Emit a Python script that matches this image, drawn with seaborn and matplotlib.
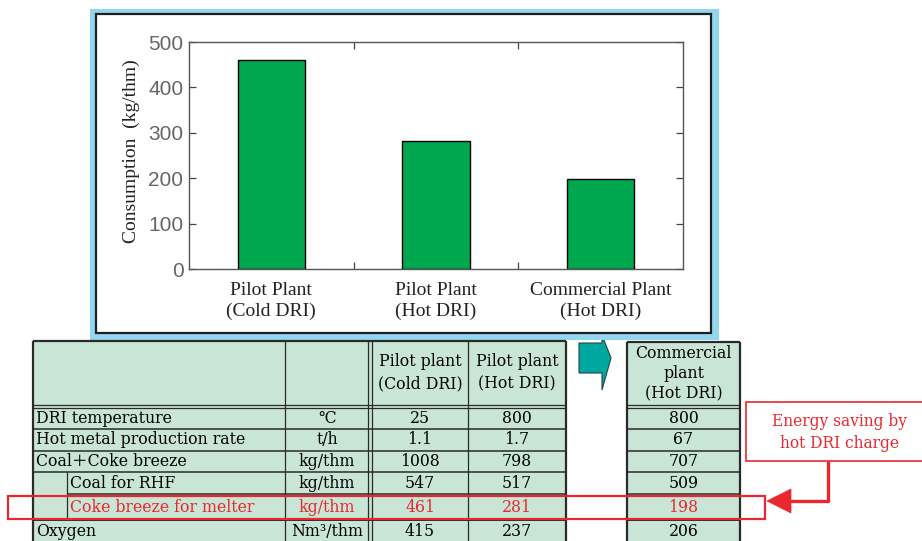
import matplotlib
matplotlib.use("Agg")
import matplotlib.pyplot as plt
from matplotlib.patches import Rectangle, Polygon
import seaborn as sns
import pandas as pd

# ---------------- data ----------------
plants = ["Pilot Plant\n(Cold DRI)", "Pilot Plant\n(Hot DRI)", "Commercial Plant\n(Hot DRI)"]
consumption = [461, 281, 198]
y_ticks = [0, 100, 200, 300, 400, 500]
y_label = "Consumption  (kg/thm)"

row_labels = ["DRI temperature", "Hot metal production rate", "Coal\uff0bCoke breeze",
              "Coal for RHF", "Coke breeze for melter", "Oxygen"]
row_units = ["\u2103", "t/h", "kg/thm", "kg/thm", "kg/thm", "Nm\u00b3/thm"]
pilot_cold = ["25", "1.1", "1008", "547", "461", "415"]
pilot_hot = ["800", "1.7", "798", "517", "281", "237"]
commercial = ["800", "67", "707", "509", "198", "206"]
col_headers = [["Pilot plant", "(Cold DRI)"], ["Pilot plant", "(Hot DRI)"],
               ["Commercial", "plant", "(Hot DRI)"]]
callout = ["Energy saving by", "hot DRI charge"]

# ---------------- style ----------------
GREEN = "#00a74f"
TABLE = "#c9e5d5"
BLUE = "#92d7ef"
RED = "#e8272f"
TEAL = "#00a6a0"
DARK = "#2a2a2a"
SERIF = ["DejaVu Serif", "DejaVu Sans", "Noto Sans CJK JP"]

sns.set_style("white")
plt.rcParams["font.family"] = ["DejaVu Serif", "DejaVu Sans", "Noto Sans CJK JP"]

fig = plt.figure(figsize=(9.22, 5.41), dpi=100)
bg = fig.add_axes([0, 0, 1, 1])
bg.set_xlim(0, 922)
bg.set_ylim(541, 0)
bg.axis("off")


def rect(x0, y0, x1, y1, fc="none", ec="none", lw=0, z=1):
    bg.add_patch(Rectangle((x0, y0), x1 - x0, y1 - y0, facecolor=fc, edgecolor=ec,
                           linewidth=lw, zorder=z))


def line(xs, ys, lw=0.9, c=DARK, z=3):
    bg.plot(xs, ys, color=c, lw=lw, zorder=z, solid_capstyle="butt")


def txt(x, y, s, ha="center", c="black", size=11.3, z=5):
    bg.text(x, y, s, ha=ha, va="center", color=c, fontsize=size, family=SERIF, zorder=z)


# teal arrow (under the blue frame)
bg.add_patch(Polygon([(579, 343), (602, 343), (602, 335), (611, 358), (602, 390),
                      (602, 373), (579, 373)], closed=True, facecolor=TEAL,
                     edgecolor="#1d4a48", lw=0.8, zorder=1))
line([602, 602], [322, 340], lw=0.8, c="#222222", z=1)

# blue frame and black inner frame
rect(90, 9, 719, 340, fc=BLUE, z=2)
rect(96, 14, 711, 333, fc="white", ec="#1e1e1e", lw=1.6, z=2.5)

# ---------------- tables ----------------
row_y = [408, 429, 451, 472, 494, 520, 560]
rect(33, 341, 566, 560, fc=TABLE, z=0.5)
rect(627, 342, 740, 560, fc=TABLE, z=0.5)
for x in (285, 368, 372, 468):
    line([x, x], [341, 560])
line([66.7, 66.7], [472, 520])
for y in (405, 408):
    line([33, 566], [y, y])
    line([627, 740], [y, y])
for y in row_y[1:6]:
    x0 = 66.7 if y == 494 else 33
    line([x0, 566], [y, y], lw=1.1 if y != 520 else 1.4)
    line([627, 740], [y, y], lw=1.1 if y != 520 else 1.4)
line([33, 566], [341, 341], lw=1.6)
line([627, 740], [342, 342], lw=1.6)
for x in (33, 566):
    line([x, x], [341, 560], lw=1.6)
for x in (627, 740):
    line([x, x], [342, 560], lw=1.6)

# headers
for (lines_, cx) in zip(col_headers[:2], (420, 517)):
    txt(cx, 362, lines_[0])
    txt(cx, 384, lines_[1])
for k, s in enumerate(col_headers[2]):
    txt(683.5, 353 + 20.5 * k, s)

# rows
for i in range(6):
    cy = (row_y[i] + row_y[i + 1]) / 2 if i < 5 else 532
    col = RED if i == 4 else "black"
    indent = 70 if i in (3, 4) else 36
    txt(indent, cy, row_labels[i], ha="left", c=col)
    txt(327, cy, row_units[i], c=col)
    txt(420, cy, pilot_cold[i], c=col)
    txt(517, cy, pilot_hot[i], c=col)
    txt(683.5, cy, commercial[i], c=col)

# red highlight rectangle
rect(8, 496, 765, 519, ec=RED, lw=1.6, z=6)

# callout box
rect(746, 401.5, 935, 461, fc="white", ec=RED, lw=1.2, z=6)
txt(839, 421, callout[0], c=RED, size=11.2, z=7)
txt(839, 443, callout[1], c=RED, size=11.2, z=7)
line([828, 828, 790], [461, 501, 501], lw=2.4, c=RED, z=6)
bg.add_patch(Polygon([(767, 501), (791, 489), (791, 513)], closed=True,
                     facecolor=RED, edgecolor=RED, lw=0.5, zorder=6))

# ---------------- bar chart ----------------
ax = fig.add_axes([189 / 922, 1 - 269 / 541, 494 / 922, 227 / 541])
ax.set_zorder(5)
ax.patch.set_alpha(0)
df = pd.DataFrame({"plant": plants, "consumption": consumption})
sns.barplot(data=df, x="plant", y="consumption", color=GREEN, saturation=1,
            edgecolor="black", linewidth=1.0, width=0.41, ax=ax)
ax.set_xlim(-0.5, 2.5)
ax.set_ylim(0, 500)
ax.set_yticks(y_ticks)
ax.set_yticklabels([str(v) for v in y_ticks], family=["Liberation Sans"],
                   fontsize=15, color="#666666")
ax.set_xticks(range(len(plants)))
ax.set_xticklabels(plants, family=["Liberation Serif"], fontsize=14,
                   color="#222222", linespacing=1.3)
ax.set_xticks([0.5, 1.5], minor=True)
ax.tick_params(axis="x", which="major", length=0, pad=9)
ax.tick_params(axis="x", which="minor", direction="in", length=5, top=True,
               bottom=True, width=0.9, color="#444444")
ax.tick_params(axis="y", which="major", direction="in", length=5, left=True,
               right=True, width=0.9, color="#444444", pad=4)
for s in ax.spines.values():
    s.set_visible(True)
    s.set_color("#555555")
    s.set_linewidth(1.0)
ax.set_xlabel("")
ax.set_ylabel(y_label, family=["Liberation Serif"], fontsize=14, color="#222222")
ax.yaxis.set_label_coords(-0.1, 0.52)

fig.savefig("out.png", dpi=100)
